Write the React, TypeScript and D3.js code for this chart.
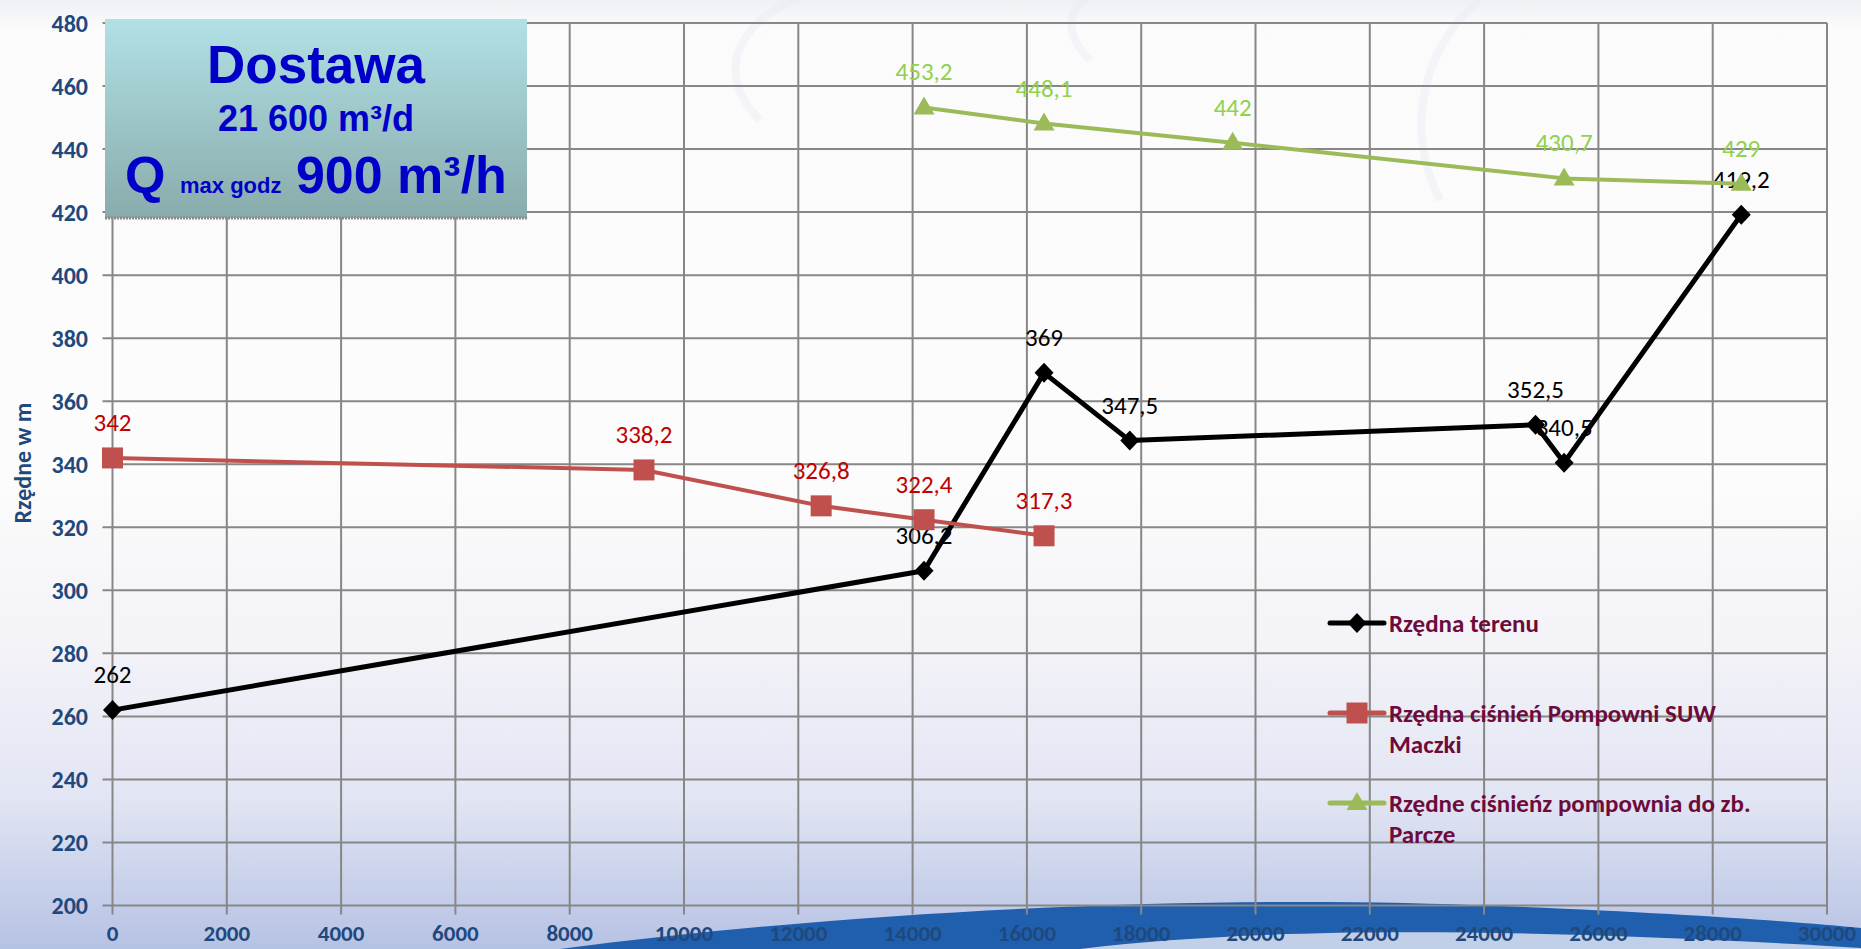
import React from "react";
import * as d3 from "d3";

// chart values
const terrainX = [0, 14200, 16300, 17800, 24900, 25400, 28500];
const terrainY = [262, 306.2, 369, 347.5, 352.5, 340.5, 419.2];
const suwX = [0, 9300, 12400, 14200, 16300];
const suwY = [342, 338.2, 326.8, 322.4, 317.3];
const parczeX = [14200, 16300, 19600, 25400, 28500];
const parczeY = [453.2, 448.1, 442, 430.7, 429];

const xTickValues = [0, 2000, 4000, 6000, 8000, 10000, 12000, 14000, 16000, 18000, 20000, 22000, 24000, 26000, 28000, 30000];
const yTickValues = [200, 220, 240, 260, 280, 300, 320, 340, 360, 380, 400, 420, 440, 460, 480];

const legendTerrain = ["Rzędna terenu"];
const legendSuw = ["Rzędna ciśnień Pompowni SUW", "Maczki"];
const legendParcze = ["Rzędne ciśnieńz pompownia do zb.", "Parcze"];

const W = 1861;
const H = 949;

type Marker = "diamond" | "square" | "triangle";

function markerPath(kind: Marker, cx: number, cy: number) {
  const p = d3.path();
  if (kind === "diamond") {
    p.moveTo(cx, cy - 10);
    p.lineTo(cx + 9.5, cy);
    p.lineTo(cx, cy + 10);
    p.lineTo(cx - 9.5, cy);
  } else if (kind === "square") {
    p.rect(cx - 10.5, cy - 10.5, 21, 21);
  } else {
    p.moveTo(cx, cy - 11);
    p.lineTo(cx + 10.5, cy + 7);
    p.lineTo(cx - 10.5, cy + 7);
  }
  p.closePath();
  return p.toString();
}

const fmt = (v: number) => String(v).replace(".", ",");

export default function App() {
  const x = d3.scaleLinear().domain([0, 30000]).range([112.5, 1827]);
  const y = d3.scaleLinear().domain([200, 480]).range([905.5, 23]);

  const line = d3
    .line<[number, number]>()
    .x((d) => x(d[0]))
    .y((d) => y(d[1]));

  const series = [
    { xs: terrainX, ys: terrainY, color: "#000000", labelColor: "#000000", width: 5, marker: "diamond" as Marker, legend: legendTerrain },
    { xs: suwX, ys: suwY, color: "#c0504d", labelColor: "#c00000", width: 4, marker: "square" as Marker, legend: legendSuw },
    { xs: parczeX, ys: parczeY, color: "#9bbb59", labelColor: "#92d050", width: 4, marker: "triangle" as Marker, legend: legendParcze },
  ];

  const axisFont = "Carlito, Lato, 'Open Sans', sans-serif";
  const axisColor = "#1f497d";
  const gridColor = "#878787";

  const legendY = [623, 713, 803];

  return (
    <svg
      width={W}
      height={H}
      style={{ position: "absolute", left: 0, top: 0, display: "block" }}
      fontFamily={axisFont}
    >
      <defs>
        <linearGradient id="bg" x1="0" y1="0" x2="0" y2="1">
          <stop offset="0%" stopColor="#eff0f5" />
          <stop offset="3%" stopColor="#fbfbfc" />
          <stop offset="50%" stopColor="#fcfcfc" />
          <stop offset="68%" stopColor="#f3f3f8" />
          <stop offset="84%" stopColor="#e2e5f3" />
          <stop offset="100%" stopColor="#b6c2e4" />
        </linearGradient>
        <linearGradient id="box" x1="0" y1="0" x2="0" y2="1">
          <stop offset="0%" stopColor="#b1e1e5" />
          <stop offset="100%" stopColor="#89abab" />
        </linearGradient>
      </defs>

      {/* background */}
      <rect x={0} y={0} width={W} height={H} fill="url(#bg)" />
      <g fill="none" stroke="#e6eaf1" strokeWidth={8} opacity={0.45}>
        <path d="M 760 120 C 700 60, 760 0, 830 -10" />
        <path d="M 1090 60 C 1050 20, 1080 -10, 1130 -20" />
        <path d="M 1440 200 C 1400 120, 1430 40, 1480 0" />
      </g>
      <path d="M 560 949 C 900 905, 1250 895, 1500 906 C 1680 913, 1800 922, 1861 928 L 1861 949 Z" fill="#1f5fae" />
      <path d="M 1080 949 C 1250 928, 1500 926, 1861 948 L 1861 949 Z" fill="#d4dcef" opacity={0.9} />

      {/* grid */}
      {yTickValues.map((v) => (
        <line key={"gy" + v} x1={x(0) - 10} x2={x(30000)} y1={y(v)} y2={y(v)} stroke={gridColor} strokeWidth={2} />
      ))}
      {xTickValues.map((v) => (
        <line key={"gx" + v} x1={x(v)} x2={x(v)} y1={y(480)} y2={y(200) + 9} stroke={gridColor} strokeWidth={2} />
      ))}

      {/* y axis labels */}
      {yTickValues.map((v) => (
        <text key={"ty" + v} x={88} y={y(v)} dy="0.36em" textAnchor="end" fontSize={24} fontWeight="bold" fill={axisColor}>
          {v}
        </text>
      ))}
      {/* x axis labels */}
      {xTickValues.map((v) => (
        <text key={"tx" + v} x={x(v)} y={941} textAnchor="middle" fontSize={23} fontWeight="bold" fill={axisColor}>
          {v}
        </text>
      ))}
      <text
        transform="translate(31,463) rotate(-90)"
        textAnchor="middle"
        fontSize={24}
        fontWeight="bold"
        fill={axisColor}
      >
        Rzędne w m
      </text>

      {/* data labels (drawn under the lines) */}
      {series.map((s, si) =>
        s.xs.map((xv, i) => (
          <text
            key={"lb" + si + "-" + i}
            x={x(xv)}
            y={y(s.ys[i]) - 27}
            textAnchor="middle"
            fontSize={25}
            fill={s.labelColor}
          >
            {fmt(s.ys[i])}
          </text>
        ))
      )}

      {/* series */}
      {series.map((s, si) => (
        <g key={"s" + si}>
          <path
            d={line(s.xs.map((xv, i) => [xv, s.ys[i]] as [number, number])) || ""}
            fill="none"
            stroke={s.color}
            strokeWidth={s.width}
            strokeLinejoin="round"
          />
          {s.xs.map((xv, i) => (
            <path key={i} d={markerPath(s.marker, x(xv), y(s.ys[i]))} fill={s.color} />
          ))}
        </g>
      ))}

      {/* legend */}
      {series.map((s, si) => (
        <g key={"lg" + si}>
          <line x1={1330} x2={1384} y1={legendY[si]} y2={legendY[si]} stroke={s.color} strokeWidth={5} strokeLinecap="round" />
          <path d={markerPath(s.marker, 1357, legendY[si])} fill={s.color} />
          {s.legend.map((t, li) => (
            <text
              key={li}
              x={1389}
              y={legendY[si] + 9 + li * 31}
              fontSize={25}
              fontWeight="bold"
              fill="#6d0b3b"
            >
              {t}
            </text>
          ))}
        </g>
      ))}

      {/* info box */}
      <rect x={105} y={19} width={422} height={199} fill="url(#box)" />
      <line x1={105} x2={527} y1={218} y2={218} stroke="#8a8a8a" strokeWidth={3} strokeDasharray="2 1" />
      <g fontFamily="'Liberation Sans', Arial, sans-serif" fontWeight="bold" fill="#0000c8" textAnchor="middle">
        <text x={316} y={83} fontSize={53}>
          Dostawa
        </text>
        <text x={316} y={131} fontSize={36}>
          21 600 m³/d
        </text>
        <text x={316} y={193}>
          <tspan fontSize={52}>Q </tspan>
          <tspan fontSize={22}>max godz</tspan>
          <tspan fontSize={52}> 900 m³/h</tspan>
        </text>
      </g>
    </svg>
  );
}
